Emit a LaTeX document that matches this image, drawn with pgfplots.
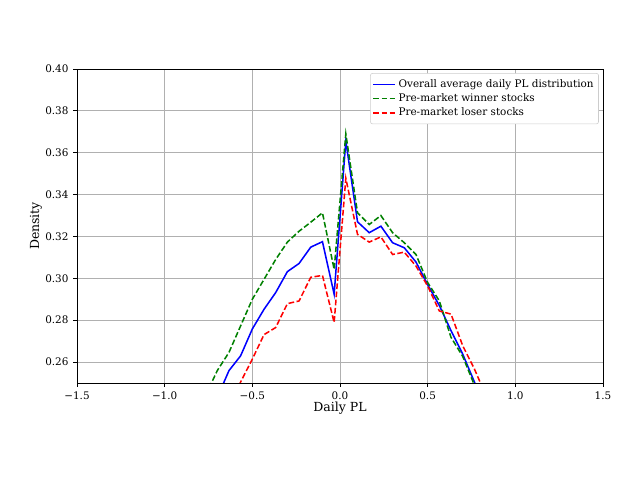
\documentclass[border=0pt]{standalone}
\usepackage{fontspec}
\setmainfont{DejaVu Serif}
\usepackage{pgfplots}
\pgfplotsset{compat=1.18}
\definecolor{mplgrid}{RGB}{176,176,176}
\definecolor{mplgreen}{RGB}{0,128,0}
\begin{document}
\begin{tikzpicture}
\path[use as bounding box] (0,0) rectangle (460.8pt,345.6pt);
\begin{axis}[
  at={(55.44pt,69.84pt)}, anchor=south west,
  scale only axis, width=378.7pt, height=226.1pt,
  xmin=-1.5, xmax=1.5, ymin=0.25, ymax=0.40,
  xtick={-1.5,-1.0,-0.5,0,0.5,1.0,1.5},
  xticklabels={−1.5,−1.0,−0.5,0.0,0.5,1.0,1.5},
  ytick={0.26,0.28,0.30,0.32,0.34,0.36,0.38,0.40},
  yticklabels={0.26,0.28,0.30,0.32,0.34,0.36,0.38,0.40},
  tick align=outside, tick pos=left,
  major tick length=2.6pt,
  every tick/.style={black, line width=0.6pt},
  axis line style={line width=0.6pt},
  grid=major, major grid style={mplgrid, line width=0.6pt},
  xlabel={Daily PL}, ylabel={Density},
  xlabel style={at={(axis description cs:0.5,-0.0796)}, anchor=center},
  ylabel style={at={(axis description cs:-0.0779,0.5)}, anchor=center},
  tick label style={font=\fontsize{7.5}{9}\selectfont},
  label style={font=\fontsize{9}{11}\selectfont},
  legend style={at={(0.992,0.987)}, anchor=north east, draw=black!20, rounded corners=1.5pt,
    font=\fontsize{7.5}{9}\selectfont, inner xsep=1.5pt, inner ysep=3pt, row sep=0.5pt,
    nodes={inner ysep=1.3pt},
    cells={anchor=west}},
  legend cell align=left,
  legend image code/.code={\draw[#1] (0cm,0cm) -- (0.55cm,0cm);},
]
\addplot[blue, line width=1.1pt] coordinates {
(-0.7000,0.2430) (-0.6333,0.2559) (-0.5667,0.2630) (-0.5000,0.2758) (-0.4333,0.2852)
(-0.3667,0.2932) (-0.3000,0.3032) (-0.2333,0.3071) (-0.1667,0.3149) (-0.1000,0.3175)
(-0.0333,0.2924) (0.0333,0.3656) (0.1000,0.3270) (0.1667,0.3218) (0.2333,0.3249)
(0.3000,0.3170) (0.3667,0.3146) (0.4333,0.3078) (0.5000,0.2970) (0.5667,0.2870)
(0.6333,0.2750) (0.7000,0.2638) (0.7667,0.2505) (0.8333,0.2370)
};
\addlegendentry{Overall average daily PL distribution}
\addplot[mplgreen, line width=1.1pt, dash pattern=on 4.1pt off 1.8pt] coordinates {
(-0.7667,0.2440) (-0.7000,0.2559) (-0.6333,0.2646) (-0.5667,0.2773) (-0.5000,0.2900)
(-0.4333,0.2995) (-0.3667,0.3090) (-0.3000,0.3173) (-0.2333,0.3225) (-0.1667,0.3268)
(-0.1000,0.3313) (-0.0333,0.3043) (0.0333,0.3690) (0.1000,0.3313) (0.1667,0.3257)
(0.2333,0.3300) (0.3000,0.3218) (0.3667,0.3170) (0.4333,0.3114) (0.5000,0.2980)
(0.5667,0.2892) (0.6333,0.2718) (0.7000,0.2627) (0.7667,0.2490) (0.8333,0.2370)
};
\addlegendentry{Pre-market winner stocks}
\addplot[red, line width=1.1pt, dash pattern=on 4.1pt off 1.8pt] coordinates {
(-0.6333,0.2380) (-0.5667,0.2505) (-0.5000,0.2614) (-0.4333,0.2731) (-0.3667,0.2765)
(-0.3000,0.2879) (-0.2333,0.2892) (-0.1667,0.3005) (-0.1000,0.3014) (-0.0333,0.2789)
(0.0333,0.3478) (0.1000,0.3210) (0.1667,0.3173) (0.2333,0.3198) (0.3000,0.3114)
(0.3667,0.3125) (0.4333,0.3059) (0.5000,0.2963) (0.5667,0.2844) (0.6333,0.2829)
(0.7000,0.2678) (0.7667,0.2567) (0.8333,0.2438)
};
\addlegendentry{Pre-market loser stocks}
\end{axis}
\end{tikzpicture}
\end{document}
